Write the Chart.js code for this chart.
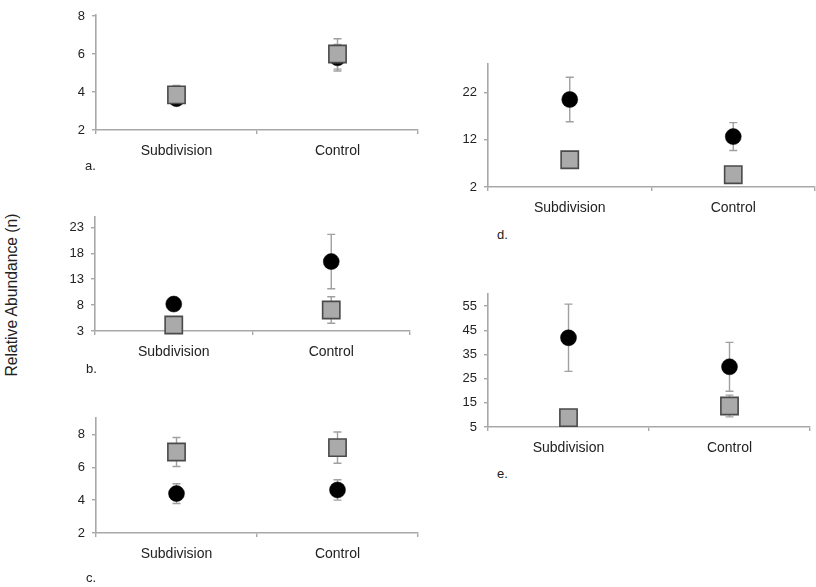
<!DOCTYPE html>
<html>
<head>
<meta charset="utf-8">
<script src="https://cdn.jsdelivr.net/npm/chart.js@4/dist/chart.umd.min.js"></script>
<style>
  body { margin: 0; background: #fff; width: 816px; height: 587px; position: relative; overflow: hidden; font-family: "Liberation Sans", Arial, sans-serif; color: #222; }
  .panel { position: absolute; }
  .tag { position: absolute; font-size: 13px; line-height: 16px; }
  #ylab { position: absolute; left: 12px; top: 295px; font-size: 15.7px; white-space: nowrap; transform: translate(-50%, -50%) rotate(-90deg); }
</style>
</head>
<body>
<div id="ylab">Relative Abundance (n)</div>

<script>
// categories shared by every panel
const categories = ['Subdivision', 'Control'];

// panel a
const aCircle = [3.65, 5.8];
const aCircleErr = [0.3, 0.7];
const aSquare = [3.85, 6.0];
const aSquareErr = [0.5, 0.8];
const aTicks = [2, 4, 6, 8];

// panel b
const bCircle = [8.2, 16.4];
const bCircleErr = [0.8, 5.25];
const bSquare = [4.15, 7.05];
const bSquareErr = [0.6, 2.55];
const bTicks = [3, 8, 13, 18, 23];

// panel c
const cCircle = [4.4, 4.62];
const cCircleErr = [0.6, 0.62];
const cSquare = [6.93, 7.2];
const cSquareErr = [0.88, 0.95];
const cTicks = [2, 4, 6, 8];

// panel d
const dCircle = [20.5, 12.65];
const dCircleErr = [4.7, 2.95];
const dSquare = [7.75, 4.6];
const dSquareErr = [1.3, 1.0];
const dTicks = [2, 12, 22];

// panel e
const eCircle = [41.9, 29.9];
const eCircleErr = [13.9, 10.1];
const eSquare = [8.9, 13.7];
const eSquareErr = [2.0, 4.5];
const eTicks = [5, 15, 25, 35, 45, 55];

// layout: chart area edges in page pixels + axis max
const panels = [
  { tag: 'a.', circle: aCircle, cErr: aCircleErr, square: aSquare, sErr: aSquareErr, ticks: aTicks, max: 8.05, L: 96, T: 15, R: 418, B: 130, tagX: 85, tagY: 158 },
  { tag: 'b.', circle: bCircle, cErr: bCircleErr, square: bSquare, sErr: bSquareErr, ticks: bTicks, max: 25, L: 95, T: 217, R: 410, B: 331, tagX: 86, tagY: 361 },
  { tag: 'c.', circle: cCircle, cErr: cCircleErr, square: cSquare, sErr: cSquareErr, ticks: cTicks, max: 9, L: 96, T: 418, R: 418, B: 533, tagX: 86, tagY: 570 },
  { tag: 'd.', circle: dCircle, cErr: dCircleErr, square: dSquare, sErr: dSquareErr, ticks: dTicks, max: 28, L: 488, T: 64, R: 815, B: 187, tagX: 497, tagY: 227 },
  { tag: 'e.', circle: eCircle, cErr: eCircleErr, square: eSquare, sErr: eSquareErr, ticks: eTicks, max: 60, L: 488, T: 294, R: 810, B: 427, tagX: 497, tagY: 466 }
];

// y tick labels need ~15px above the chart area, so keep top padding at least that
const Y_W = 44, X_H = 36, PAD_T = 16, PAD_R = 2;
const axisGrey = '#a8a8a8';

// vertical error bars with caps, behind the markers
const errorBars = {
  id: 'errorBars',
  beforeDatasetsDraw(chart) {
    const ctx = chart.ctx;
    const ys = chart.scales.y;
    ctx.save();
    ctx.strokeStyle = '#a0a0a0';
    ctx.lineWidth = 1.4;
    chart.data.datasets.forEach((ds, di) => {
      const meta = chart.getDatasetMeta(di);
      ds.data.forEach((v, i) => {
        const x = meta.data[i].x;
        const top = ys.getPixelForValue(v + ds.err[i]);
        const bot = ys.getPixelForValue(v - ds.err[i]);
        ctx.beginPath();
        ctx.moveTo(x, top); ctx.lineTo(x, bot);
        ctx.moveTo(x - 4, top); ctx.lineTo(x + 4, top);
        ctx.moveTo(x - 4, bot); ctx.lineTo(x + 4, bot);
        ctx.stroke();
      });
    });
    ctx.restore();
  }
};

panels.forEach(p => {
  const div = document.createElement('div');
  div.className = 'panel';
  const w = p.R - p.L + Y_W + PAD_R;
  const h = p.B - p.T + PAD_T + X_H;
  div.style.left = (p.L - Y_W) + 'px';
  div.style.top = (p.T - PAD_T) + 'px';
  const cv = document.createElement('canvas');
  cv.width = w; cv.height = h;
  cv.style.width = w + 'px'; cv.style.height = h + 'px';
  div.appendChild(cv);
  document.body.appendChild(div);

  const tag = document.createElement('div');
  tag.className = 'tag';
  tag.style.left = p.tagX + 'px';
  tag.style.top = p.tagY + 'px';
  tag.textContent = p.tag;
  document.body.appendChild(tag);

  new Chart(cv.getContext('2d'), {
    type: 'line',
    data: {
      labels: categories,
      datasets: [
        // rect radius r draws a square of side r*sqrt(2)
        { label: 'square', data: p.square, err: p.sErr, order: 0, showLine: false, clip: false,
          pointStyle: 'rect', pointRadius: 12.2, pointBackgroundColor: '#aaaaaa', pointBorderColor: '#4a4a4a', pointBorderWidth: 1.6 },
        { label: 'circle', data: p.circle, err: p.cErr, order: 1, showLine: false, clip: false,
          pointStyle: 'circle', pointRadius: 8, pointBackgroundColor: '#000', pointBorderColor: '#000', pointBorderWidth: 0.5 }
      ]
    },
    options: {
      responsive: false,
      animation: false,
      devicePixelRatio: 1,
      layout: { autoPadding: false, padding: { top: PAD_T, right: PAD_R, left: 0, bottom: 0 } },
      plugins: { legend: { display: false }, tooltip: { enabled: false } },
      scales: {
        x: {
          type: 'category',
          offset: true,
          afterFit: s => { s.height = X_H; },
          grid: { offset: true, drawOnChartArea: false, drawTicks: true, tickLength: 4, color: axisGrey, lineWidth: 1.4 },
          border: { color: axisGrey, width: 1.6 },
          ticks: { padding: 9, color: '#222', font: { family: 'Liberation Sans', size: 14 } }
        },
        y: {
          min: p.ticks[0],
          max: p.max,
          afterFit: s => { s.width = Y_W; },
          afterBuildTicks: s => { s.ticks = p.ticks.map(v => ({ value: v })); },
          grid: { drawOnChartArea: false, drawTicks: true, tickLength: 4, color: axisGrey, lineWidth: 1.4 },
          border: { color: axisGrey, width: 1.6 },
          ticks: { padding: 7, color: '#222', font: { family: 'Liberation Sans', size: 13 } }
        }
      }
    },
    plugins: [errorBars]
  });
});
</script>
</body>
</html>
